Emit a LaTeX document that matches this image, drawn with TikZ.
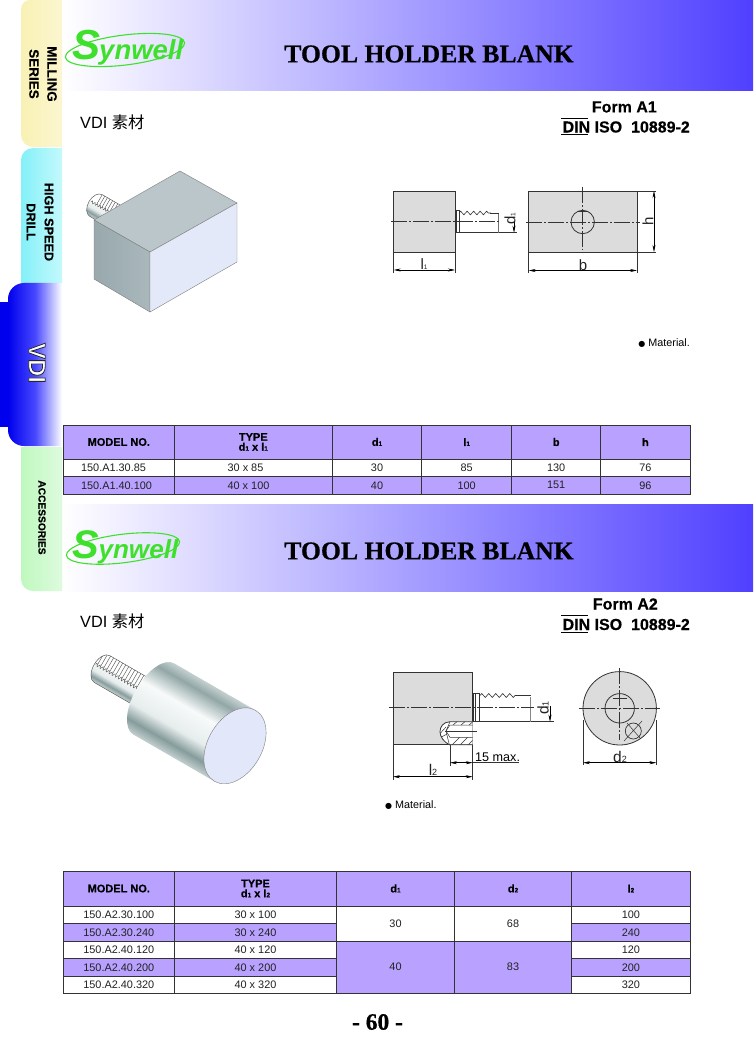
\documentclass[tikz,border=0pt]{standalone}
\usepackage{fontspec}
\setmainfont{Liberation Sans}
\newfontfamily\titlefont{Liberation Serif Bold}[FakeBold=0.6]
\newfontfamily\fbold{Liberation Sans Bold}[FakeBold=0.35]
\newfontfamily\cjk{Noto Sans CJK SC}
\newfontfamily\djv{DejaVu Sans}
\usetikzlibrary{arrows.meta,decorations.pathmorphing}
\definecolor{tpurple}{HTML}{B9A2FF}
\definecolor{hdrblue}{HTML}{5040FF}
\definecolor{logog}{HTML}{3FE02C}
\definecolor{lnk}{HTML}{333333}
\definecolor{txtc}{HTML}{222222}
\definecolor{partg}{HTML}{DCDCDC}
\definecolor{cA}{HTML}{C4D0D0}
\definecolor{cB}{HTML}{94A8A8}
\definecolor{cC}{HTML}{F8FAFA}
\definecolor{cD}{HTML}{E6ECEC}
\definecolor{cE}{HTML}{869C9C}
\definecolor{cF}{HTML}{C4D0D0}
\definecolor{tabyel}{HTML}{F9F1B4}
\definecolor{tabyelb}{HTML}{FBF6D0}
\definecolor{tabcya}{HTML}{84F0F8}
\definecolor{tabcyb}{HTML}{C4F9FC}
\definecolor{tabgrn}{HTML}{BFF8BF}
\definecolor{tabgrb}{HTML}{DDFBDD}
\newcommand\fsz[1]{\fontsize{#1}{#1}\selectfont}
\newcommand\sbs[1]{{\fontsize{6.5}{6.5}\selectfont #1}}
\newcommand\dsb[1]{{\fontsize{9}{9}\selectfont #1}}
\tikzset{
  x=1pt,y=-1pt,
  cellbox/.style={draw=lnk,line width=.7pt,inner sep=0pt,align=center,text=txtc,font=\fsz{10.9}},
  headbox/.style={cellbox,fill=tpurple,text=black,font=\fbold\fsz{11}},
  part/.style={draw=lnk,line width=.8pt,fill=partg},
  thin line/.style={draw=lnk,line width=.5pt},
  centre line/.style={draw=lnk,line width=.5pt,dash pattern=on 16pt off 2pt on 2pt off 2pt},
  dim/.style={draw=black,line width=.5pt,{Stealth[length=7pt,width=3pt]}-{Stealth[length=7pt,width=3pt]}},
  dimone/.style={draw=black,line width=.5pt,-{Stealth[length=7pt,width=3pt]}},
  lab/.style={inner sep=0pt,text=txtc,font=\fsz{15}},
  tabtxt/.style={inner sep=0pt,rotate=-90,align=center},
  form/.style={inner sep=0pt,font=\fbold\fsz{16},anchor=east},
  toolline/.style={draw=black!65,line width=.45pt},
}
% name, x0, x1, y0, y1, style, text
\newcommand\tcell[7]{%
  \pgfmathsetmacro\cw{#3-#2}\pgfmathsetmacro\ch{#5-#4}%
  \pgfmathsetmacro\cx{(#2+#3)/2}\pgfmathsetmacro\cy{(#4+#5)/2}%
  \node[#6,minimum width=\cw pt,minimum height=\ch pt] (#1) at (\cx,\cy) {#7};}
% R, u0, u1 : shaded strips across a cylinder
\newcommand\cylstrips[3]{%
 \foreach \ta/\tb/\ca/\cb in {1/.75/cA/cB,.75/.25/cB/cC,.25/-.35/cC/cD,-.35/-.72/cD/cE,-.72/-1/cE/cF}{%
  \foreach \k in {0,...,9}{%
   \pgfmathsetmacro\vy{#1*(\ta+(\tb-\ta)*\k/10)}%
   \pgfmathsetmacro\vz{#1*(\ta+(\tb-\ta)*(\k+1.6)/10)}%
   \pgfmathtruncatemacro\pc{100-\k*10}%
   \edef\mixc{\ca!\pc!\cb}%
   \fill[fill=\mixc] (#2,\vy) rectangle (#3,\vz);%
  }}}
\newcommand\logo[3]{%
  \begin{scope}[shift={(#1,#2)},scale=#3]
    \draw[logog,line width=1.1pt,rotate=7] (0,0) ellipse[x radius=60pt,y radius=15pt];
    \node[inner sep=0pt,anchor=base west,text=logog,transform shape,font=\bfseries\itshape] (logo#1) at (-53,10) {\fontsize{42}{42}\selectfont S\kern-1pt\fontsize{27.5}{27.5}\selectfont ynwell};
  \end{scope}}
\begin{document}
\begin{tikzpicture}
\useasboundingbox (0,0) rectangle (753,1056);
\fill[white] (0,0) rectangle (753,1056);
% header bands
\shade[left color=white,right color=hdrblue] (62,0) rectangle (753,91);
\shade[left color=white,right color=hdrblue] (62,504) rectangle (753,591);
% tabs
\shade[left color=tabyel,right color=tabyelb] (62,0) -- (30,0) arc[start angle=90,end angle=180,radius=9pt] -- (21,135) arc[start angle=180,end angle=270,radius=12pt] -- (62,147) -- cycle;
\shade[left color=tabcya,right color=tabcyb] (62,148) -- (33,148) arc[start angle=90,end angle=180,radius=12pt] -- (21,283) -- (62,283) -- cycle;
\shade[left color=tabgrn,right color=tabgrb] (62,447) -- (21,447) -- (21,579) arc[start angle=180,end angle=270,radius=12pt] -- (62,591) -- cycle;
\fill[blue!93!black] (0,302) rectangle (20,427);
\shade[left color=blue!93!black,right color=white,middle color=blue!72!white] (62,283) -- (24,283) arc[start angle=90,end angle=180,radius=16pt] -- (8,430) arc[start angle=180,end angle=270,radius=16pt] -- (62,446) -- cycle;
\node[tabtxt,font=\fbold\fsz{13.5}] (tabm1) at (52,74) {MILLING};
\node[tabtxt,font=\fbold\fsz{13.5}] (tabm2) at (34,74) {SERIES};
\node[tabtxt,font=\fbold\fsz{12.7}] (tabh1) at (49,222) {HIGH SPEED};
\node[tabtxt,font=\fbold\fsz{12.7}] (tabh2) at (31,222) {DRILL};
\node[tabtxt,font=\bfseries\fsz{24}] (tabv) at (37,363) {\special{pdf:code q 2 Tr 0.8 w 0.15 0.15 0.2 RG 1 1 1 rg}VDI\special{pdf:code Q}};
\node[tabtxt,font=\fbold\fsz{10.2}] (taba) at (42,517.5) {ACCESSORIES};
% logos
\logo{125}{50}{1}
\logo{123}{548.5}{.95}
% titles
\node[inner sep=0pt,font=\titlefont\fsz{25.7}] (title1) at (429,54) {TOOL HOLDER BLANK};
\node[inner sep=0pt,font=\titlefont\fsz{25.7}] (title2) at (429,551) {TOOL HOLDER BLANK};
\node[inner sep=0pt,anchor=west,font=\fsz{16.3}] (vdi1) at (80,122.5) {VDI {\cjk 素材}};
\node[inner sep=0pt,anchor=west,font=\fsz{16.3}] (vdi2) at (80,621) {VDI {\cjk 素材}};
\node[form] (form1) at (657,107) {Form A1};
\node[form] (din1) at (690,127) {DIN ISO\ \ 10889-2};
\draw[line width=1pt] (561,118.5) -- (588,118.5) (561,135) -- (588,135);
\node[form] (form2) at (658,604) {Form A2};
\node[form] (din2) at (690,624.5) {DIN ISO\ \ 10889-2};
\draw[line width=1pt] (561,615.5) -- (588,615.5) (561,632.5) -- (588,632.5);
% 3D block A1
\begin{scope}[shift={(96,205.5)},rotate=-30,x=1pt,y=1pt]
  \begin{scope}
    \clip (0,12.5) -- (48,12.5) -- (48,-12.5) -- (0,-12.5) arc[start angle=270,end angle=90,x radius=8pt,y radius=12.5pt] -- cycle;
    \cylstrips{12.5}{-10}{48}
    \fill[white] (-10,12.5) rectangle (48,1);
    \foreach \u in {0,3,...,42} \draw[toolline] (\u,12.5) -- (\u,1);
  \end{scope}
  \draw[toolline,decorate,decoration={zigzag,amplitude=1.2pt,segment length=3pt}] (-6,1) -- (45,1);
  \draw[toolline] (48,12.5) -- (0,12.5) arc[start angle=90,end angle=270,x radius=8pt,y radius=12.5pt] -- (48,-12.5);
\end{scope}
\fill[fill={rgb,255:red,186;green,198;blue,202},draw=gray,line width=.4pt] (94,220) -- (180,171) -- (237,203) -- (150,252) -- cycle;
\shade[left color={rgb,255:red,152;green,168;blue,172},right color={rgb,255:red,170;green,184;blue,188},draw=gray,line width=.4pt] (94,220) -- (150,252) -- (150,312) -- (94,279) -- cycle;
\fill[fill={rgb,255:red,228;green,233;blue,250},draw=gray,line width=.4pt] (150,252) -- (237,203) -- (237,262) -- (150,312) -- cycle;
% 3D cylinder A2
\begin{scope}[shift={(147,695)},rotate=-30,x=1pt,y=1pt]
  \begin{scope}
    \clip (-52,15.5) -- (2,15.5) -- (2,-15.5) -- (-52,-15.5) arc[start angle=270,end angle=90,x radius=9pt,y radius=15.5pt] -- cycle;
    \cylstrips{15.5}{-62}{2}
    \fill[white] (-62,15.5) rectangle (2,1);
    \foreach \u in {-58,-54.5,...,-2} \draw[toolline] (\u,15.5) -- (\u,1);
  \end{scope}
  \draw[toolline,decorate,decoration={zigzag,amplitude=1.5pt,segment length=3.5pt}] (-60,1) -- (-2,1);
  \draw[toolline] (-5,15.5) -- (-52,15.5) arc[start angle=90,end angle=270,x radius=9pt,y radius=15.5pt] -- (-5,-15.5);
  \begin{scope}
    \clip (8,41) -- (101.6,41) -- (101.6,-41) -- (8,-41) arc[start angle=270,end angle=90,x radius=20pt,y radius=41pt] -- cycle;
    \cylstrips{41}{-30}{102}
  \end{scope}
  \fill[fill={rgb,255:red,226;green,231;blue,250},draw=gray,line width=.4pt] (101.6,0) ellipse[x radius=27pt,y radius=41pt];
\end{scope}
% ---- drawing A1
\draw[part] (393.7,191) rectangle (455,252.3);
\draw[part] (528.7,191) rectangle (637,252.3);
\draw[part,fill=white] (455,210) rectangle (459,232.7);
\draw[lnk,line width=1pt] (456.5,210) -- (456.5,232.7);
\fill[white] (459,214) rectangle (499.3,232.7);
\draw[thin line] (459,232.7) -- (499.3,232.7) (459,214) -- (459,232.7);
\draw[line width=1.2pt,lnk!70] (498.7,214) -- (498.7,232.7);
\draw[thin line] (490,213) -- (499.3,213);
\draw[thin line,line width=.6pt,decorate,decoration={zigzag,amplitude=1.8pt,segment length=6.5pt}] (459,213) -- (491,213);
\draw[centre line] (391,221.7) -- (499.3,221.7);
\draw[centre line] (526,222) -- (640,222);
\draw[centre line] (582.7,187) -- (582.7,250);
\draw[lnk,line width=.8pt] (582.7,222) circle[radius=11.7pt];
\draw[lnk,line width=1pt] (578,212) -- (588,212);
\draw[thin line] (499.3,232.7) -- (517,232.7);
\draw[dimone] (514,221) -- (514,232.7);
\node[lab,rotate=90] (dd1) at (510,219) {d\sbs{1}};
\draw[thin line] (393.7,253) -- (393.7,273) (455,253) -- (455,273);
\draw[dim] (393.7,270) -- (455,270);
\node[lab] (dl1) at (424,264) {l\sbs{1}};
\draw[thin line] (528.7,253) -- (528.7,273) (637,253) -- (637,273);
\draw[dim] (528.7,270.5) -- (637,270.5);
\node[lab] (db) at (583,265) {b};
\draw[thin line] (637,191) -- (656,191) (637,252) -- (656,252);
\draw[dim] (654,191) -- (654,252);
\node[lab,rotate=90] (dh) at (648,221) {h};
\node[inner sep=0pt,anchor=east,font=\fsz{10.8}] (mat1) at (690,343) {{\djv\fsz{8}●} Material.};
% ---- drawing A2
\draw[part] (393,672.3) rectangle (472.7,744.7);
\draw[part,fill=white] (473.3,693.3) rectangle (479.3,721.7);
\draw[lnk,line width=1pt] (475.5,693.3) -- (475.5,721.7);
\fill[white] (479.3,697) rectangle (531.3,721.7);
\draw[thin line] (479.3,721.7) -- (531.3,721.7) (479.3,696) -- (479.3,721.7);
\draw[line width=1.4pt,lnk!60] (530.5,697) -- (530.5,721.7);
\draw[thin line] (518,695.5) -- (531,695.5);
\draw[thin line,line width=.6pt,decorate,decoration={zigzag,amplitude=2pt,segment length=7pt}] (480,695.5) -- (518,695.5);
% threaded hole
\draw[part,fill=white] (472.7,721.7) -- (450,721.7) .. controls (443,722) and (440,727) .. (440,731.7) .. controls (440,737) and (444,742) .. (449.3,744.7) -- (472.7,744.7);
\begin{scope}
  \clip (472.7,744.7) -- (449,744.7) -- (450,737.3) -- (472.7,737.3) -- cycle;
  \foreach \hx in {452,460,468} \draw[thin line] (\hx,745) -- (\hx+8,737);
\end{scope}
\begin{scope}
  \clip (472.7,721.7) -- (450,721.7) -- (450,725) -- (472.7,725) -- cycle;
  \foreach \hx in {453,461,469} \draw[thin line] (\hx,725) -- (\hx+4,721.7);
\end{scope}
\draw[thin line] (472.7,725) -- (450,725) -- (446,731) -- (450,737.3) -- (472.7,737.3);
\draw[thin line] (450,721.7) -- (446,731) -- (449.3,744.7) (440.5,733) -- (446,727) (441.5,737) -- (447,734);
\draw[thin line] (445,731) -- (477,731);
\draw[centre line] (389,707.7) -- (534,707.7);
\draw[thin line] (531,721.7) -- (554,721.7);
\draw[dimone] (550,706) -- (550,721.7);
\node[lab,rotate=90,font=\fsz{15.5}] (dd2) at (543,708) {d\dsb{1}};
\draw[thin line] (450,745) -- (450,766) (472.7,745) -- (472.7,780);
\draw[dim] (450,762.7) -- (472.7,762.7);
\draw[thin line] (472.7,762.7) -- (519,762.7);
\node[inner sep=0pt,anchor=west,font=\fsz{12.6}] (max15) at (475,757) {15 max.};
\draw[thin line] (393,745) -- (393,780);
\draw[dim] (393,776.7) -- (472.7,776.7);
\node[lab,font=\fsz{15.5}] (dl2) at (433,770) {l\dsb{2}};
\draw[part] (619.7,708.3) circle[radius=36.7pt];
\draw[lnk,line width=.8pt] (619.7,708.3) circle[radius=14.7pt];
\draw[lnk,line width=1pt] (613,698) -- (627,698);
\draw[centre line] (579,708.3) -- (660,708.3);
\draw[centre line] (619.7,668) -- (619.7,740);
\draw[lnk,line width=.7pt] (633.3,731) circle[radius=8pt];
\draw[thin line] (624,741) -- (642,721) (627,723) -- (640,738);
\draw[thin line] (583,720) -- (583,765) (656.4,720) -- (656.4,765);
\draw[dim] (583,762.7) -- (656.4,762.7);
\node[lab,font=\fsz{15.5}] (dd3) at (620,757) {d\dsb{2}};
\node[inner sep=0pt,anchor=west,font=\fsz{10.8}] (mat2) at (385,805) {{\djv\fsz{8}●} Material.};
% ---- table A1
\tcell{ah1}{63.3}{174.3}{425}{459}{headbox}{MODEL NO.}
\tcell{ah2}{174.3}{332.3}{425}{459}{headbox}{TYPE\\[-1pt]d\sbs{1} x l\sbs{1}}
\tcell{ah3}{332.3}{421.7}{425}{459}{headbox}{d\sbs{1}}
\tcell{ah4}{421.7}{511.7}{425}{459}{headbox}{l\sbs{1}}
\tcell{ah5}{511.7}{600.7}{425}{459}{headbox}{b}
\tcell{ah6}{600.7}{690}{425}{459}{headbox}{h}
\tcell{a11}{63.3}{174.3}{459}{476.5}{cellbox,fill=white}{150.A1.30.85\kern10.6pt}
\tcell{a12}{174.3}{332.3}{459}{476.5}{cellbox,fill=white}{30 x 85\kern15.6pt}
\tcell{a13}{332.3}{421.7}{459}{476.5}{cellbox,fill=white}{30}
\tcell{a14}{421.7}{511.7}{459}{476.5}{cellbox,fill=white}{85}
\tcell{a15}{511.7}{600.7}{459}{476.5}{cellbox,fill=white}{130}
\tcell{a16}{600.7}{690}{459}{476.5}{cellbox,fill=white}{76}
\tcell{a21}{63.3}{174.3}{476.5}{494}{cellbox,fill=tpurple}{150.A1.40.100\kern4.6pt}
\tcell{a22}{174.3}{332.3}{476.5}{494}{cellbox,fill=tpurple}{40 x 100\kern9.6pt}
\tcell{a23}{332.3}{421.7}{476.5}{494}{cellbox,fill=tpurple}{40}
\tcell{a24}{421.7}{511.7}{476.5}{494}{cellbox,fill=tpurple}{100}
\tcell{a25}{511.7}{600.7}{476.5}{494}{cellbox,fill=tpurple}{151}
\tcell{a26}{600.7}{690}{476.5}{494}{cellbox,fill=tpurple}{96}
\draw[lnk,line width=1pt] (63.3,425) rectangle (690,494);
% ---- table A2
\tcell{bh1}{63.3}{174.3}{871}{906}{headbox}{MODEL NO.}
\tcell{bh2}{174.3}{336.7}{871}{906}{headbox}{TYPE\\[-1pt]d\sbs{1} x l\sbs{2}}
\tcell{bh3}{336.7}{454.3}{871}{906}{headbox}{d\sbs{1}}
\tcell{bh4}{454.3}{571.7}{871}{906}{headbox}{d\sbs{2}}
\tcell{bh5}{571.7}{690}{871}{906}{headbox}{l\sbs{2}}
\tcell{b11}{63.3}{174.3}{906}{923.5}{cellbox,fill=white}{150.A2.30.100}
\tcell{b12}{174.3}{336.7}{906}{923.5}{cellbox,fill=white}{30 x 100}
\tcell{b15}{571.7}{690}{906}{923.5}{cellbox,fill=white}{100}
\tcell{b21}{63.3}{174.3}{923.5}{941}{cellbox,fill=tpurple}{150.A2.30.240}
\tcell{b22}{174.3}{336.7}{923.5}{941}{cellbox,fill=tpurple}{30 x 240}
\tcell{b25}{571.7}{690}{923.5}{941}{cellbox,fill=tpurple}{240}
\tcell{b31}{63.3}{174.3}{941}{958.5}{cellbox,fill=white}{150.A2.40.120}
\tcell{b32}{174.3}{336.7}{941}{958.5}{cellbox,fill=white}{40 x 120}
\tcell{b35}{571.7}{690}{941}{958.5}{cellbox,fill=white}{120}
\tcell{b41}{63.3}{174.3}{958.5}{976}{cellbox,fill=tpurple}{150.A2.40.200}
\tcell{b42}{174.3}{336.7}{958.5}{976}{cellbox,fill=tpurple}{40 x 200}
\tcell{b45}{571.7}{690}{958.5}{976}{cellbox,fill=tpurple}{200}
\tcell{b51}{63.3}{174.3}{976}{993.3}{cellbox,fill=white}{150.A2.40.320}
\tcell{b52}{174.3}{336.7}{976}{993.3}{cellbox,fill=white}{40 x 320}
\tcell{b55}{571.7}{690}{976}{993.3}{cellbox,fill=white}{320}
\tcell{bm3}{336.7}{454.3}{906}{941}{cellbox,fill=white}{30}
\tcell{bm4}{454.3}{571.7}{906}{941}{cellbox,fill=white}{68}
\tcell{bn3}{336.7}{454.3}{941}{993.3}{cellbox,fill=tpurple}{40}
\tcell{bn4}{454.3}{571.7}{941}{993.3}{cellbox,fill=tpurple}{83}
\draw[lnk,line width=1pt] (63.3,871) rectangle (690,993.3);
% page number
\node[inner sep=0pt,font=\titlefont\fsz{23.5}] (pageno) at (377.5,1022) {- 60 -};
\end{tikzpicture}
\end{document}
